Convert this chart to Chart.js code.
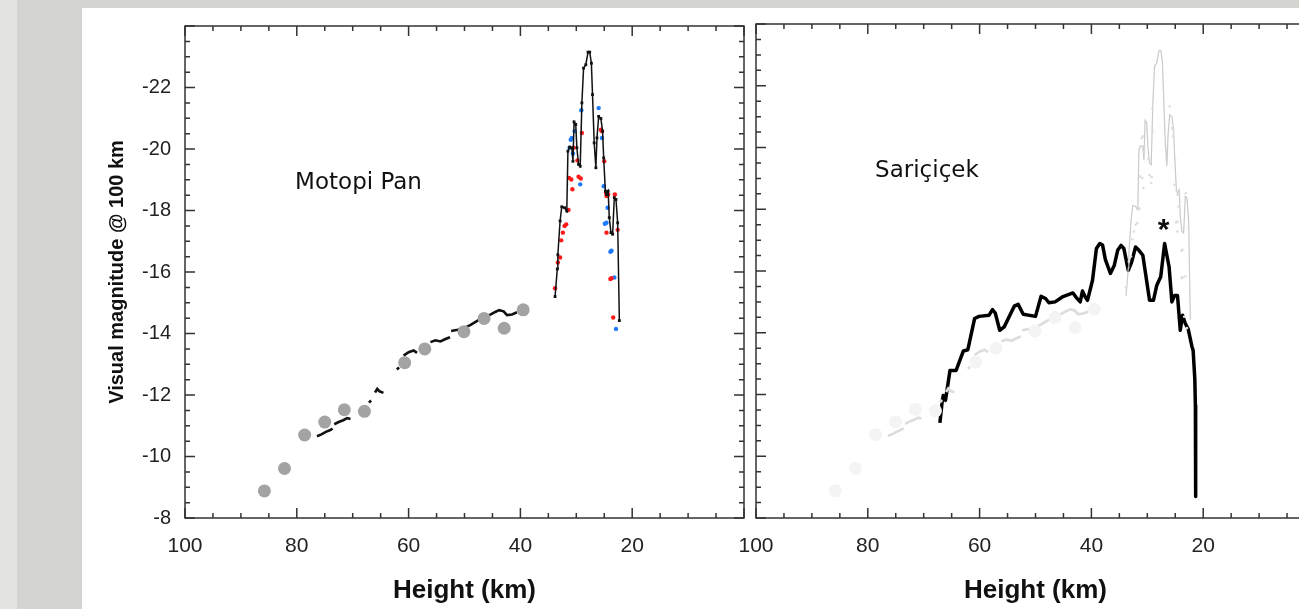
<!DOCTYPE html>
<html>
<head>
<meta charset="utf-8">
<script src="https://cdn.jsdelivr.net/npm/chart.js@4"></script>
<style>
  html, body { margin: 0; padding: 0; width: 1299px; height: 609px; overflow: hidden; background: #fff; }
  .band { position: absolute; background: #d4d4d0; }
  canvas { position: absolute; top: 0; }
</style>
</head>
<body>
<div class="band" style="left:0;top:0;width:1299px;height:8px"></div>
<div class="band" style="left:0;top:0;width:82px;height:609px"></div>
<div class="band" style="left:0;top:0;width:17px;height:609px;background:#e3e3df"></div>
<canvas id="left" width="760" height="609" style="left:0"></canvas>
<canvas id="right" width="640" height="609" style="left:700px"></canvas>
<script>
// Motopi Pan: grey circles
var circH = [85.8, 82.2, 78.6, 75.0, 71.5, 67.9, 60.7, 57.1, 50.1, 46.5, 42.9, 39.5];
var circM = [-8.88, -9.61, -10.70, -11.12, -11.52, -11.47, -13.05, -13.50, -14.06, -14.49, -14.17, -14.77];

// Motopi Pan: small black dots (null = gap)
var dotH = [76.4, 75.6, 74.8, 74.0, 73.6, null, 73.3, 72.5, 71.7, 71.0, 70.4, null, 67.1, 66.7, null,
  66.0, 65.6, 65.2, 64.5, null, 62.1, 61.7, null, 60.9, 60.0, 59.1, 58.5, null,
  56.1, 55.2, 54.3, 53.4, 52.6, null, 52.4, 51.2, 50.0, 48.9, 47.8, 46.6, 45.3, 44.5, 43.8, 43.0, 42.4, 41.5, 40.6];
var dotM = [-10.66, -10.72, -10.80, -10.86, -10.91, null, -11.05, -11.12, -11.18, -11.25, -11.22, null, -11.75, -11.82, null,
  -12.08, -12.2, -12.12, -12.07, null, -12.83, -12.9, null, -13.28, -13.39, -13.45, -13.37, null,
  -13.72, -13.78, -13.74, -13.82, -13.88, null, -14.08, -14.12, -14.18, -14.28, -14.4, -14.52, -14.62, -14.7, -14.76, -14.72, -14.6, -14.62, -14.69];

// Motopi Pan: main light curve
var mainH = [33.8, 33.4, 33.3, 32.9, 32.6, 32.1, 31.7, 31.5, 31.2, 30.8, 30.6, 30.4, 30.1, 29.9, 29.6, 29.3, 29.0, 28.7, 28.3, 27.9,
  27.6, 27.3, 27.1, 26.8, 26.5, 26.3, 26.0, 25.6, 25.3, 25.1, 24.8, 24.6, 24.3, 24.1, 23.8, 23.5, 23.2, 22.9, 22.6, 22.3];
var mainM = [-15.2, -16.1, -16.56, -17.66, -18.12, -18.09, -17.98, -19.93, -20.06, -20.04, -19.6, -20.88, -20.8, -20.04, -19.5, -19.44, -21.5, -22.63, -22.74, -23.15,
  -23.15, -22.79, -21.77, -20.2, -19.39, -20.36, -21.06, -20.99, -20.58, -19.71, -18.63, -18.52, -18.63, -17.77, -17.28, -17.23, -18.42, -18.36, -17.6, -14.42];

var redH = [33.8, 33.3, 32.9, 32.7, 32.4, 32.1, 31.8, 31.4, 31.3, 30.9, 30.7, 30.5, 29.8, 29.6, 29.2, 29.0, 25.6, 25.4, 25.0, 24.7, 24.6, 24.3, 24.6, 23.9, 23.7, 23.4, 23.1, 22.6];
var redM = [-15.47, -16.31, -16.47, -17.03, -17.28, -17.5, -17.55, -18.02, -19.06, -19.01, -18.69, -20.04, -19.63, -19.1, -19.04, -20.52, -20.63, -20.58, -19.6, -18.58, -18.47, -18.52, -17.28, -15.77, -15.8, -14.52, -18.52, -17.37];

var blueH = [31.2, 31.0, 30.8, 30.6, 30.3, 29.3, 29.1, 26.0, 25.4, 25.1, 24.4, 24.9, 24.6, 23.9, 23.7, 23.2, 22.9];
var blueM = [-20.04, -20.3, -20.36, -19.85, -20.58, -18.85, -21.26, -21.33, -20.36, -18.79, -18.09, -17.57, -17.6, -16.66, -16.69, -15.82, -14.15];

// Sariçiçek light curve
var sarH = [67.1, 66.7, 66.5, 66.1, 65.3, 64.2, 62.9, 62.1, 60.9, 60.1, 58.3, 57.7, 57.2, 56.4, 55.6, 53.8, 53.1, 52.2, 50.0, 49.0,
  48.2, 47.6, 46.5, 45.2, 43.3, 42.7, 42.0, 41.6, 41.1, 40.7, 39.8, 39.1, 38.5, 38.0, 37.5, 36.6, 35.9, 35.3, 34.7, 34.2,
  33.4, 32.8, 32.1, 31.5, 30.8, 29.6, 28.9, 28.3, 27.6, 26.9, 26.1, 25.6, 25.1, 24.6, 24.1, 23.7, 23.2, 22.7, 22.0, 21.8,
  21.5, 21.4, 21.35];
var sarM = [-11.08, -11.76, -11.97, -11.81, -12.78, -12.78, -13.41, -13.45, -14.46, -14.53, -14.57, -14.75, -14.64, -14.08, -14.19, -14.86, -14.92, -14.6, -14.53, -15.18,
  -15.11, -14.97, -15.0, -15.16, -15.29, -15.14, -15.0, -15.35, -15.16, -15.05, -15.7, -16.73, -16.89, -16.84, -16.37, -15.92, -16.19, -16.67, -16.83, -16.73,
  -16.02, -16.29, -16.78, -16.67, -16.51, -15.05, -15.05, -15.54, -15.81, -16.89, -16.13, -15.0, -15.21, -15.21, -14.08, -14.57, -14.3, -14.13, -13.54, -13.43,
  -12.5, -11.65, -8.7];

var xTicks = [100, 80, 60, 40, 20];
var yTicks = [-22, -20, -18, -16, -14, -12, -10, -8];

function pts(xs, ys) {
  var out = [];
  xs.forEach(function(x, i) {
    if (x === null) out.push({ x: xs[i - 1], y: null });
    else out.push({ x: x, y: ys[i] });
  });
  return out;
}

// box, inward ticks on all four sides, and text notes
var framePlugin = {
  id: 'frame',
  afterDraw: function(chart) {
    var ctx = chart.ctx, a = chart.chartArea, xs = chart.scales.x, ys = chart.scales.y;
    ctx.save();
    ctx.strokeStyle = '#333';
    ctx.lineWidth = 1.5;
    ctx.strokeRect(a.left, a.top, a.right - a.left, a.bottom - a.top);
    ctx.beginPath();
    for (var v = 0; v <= 100; v += 5) {
      var px = xs.getPixelForValue(v), len = v % 20 === 0 ? 10 : 5;
      ctx.moveTo(px, a.bottom); ctx.lineTo(px, a.bottom - len);
      ctx.moveTo(px, a.top); ctx.lineTo(px, a.top + len);
    }
    for (var m = -24; m <= -8; m += 0.5) {
      var py = ys.getPixelForValue(m), l2 = m % 2 === 0 ? 10 : 5;
      ctx.moveTo(a.left, py); ctx.lineTo(a.left + l2, py);
      ctx.moveTo(a.right, py); ctx.lineTo(a.right - l2, py);
    }
    ctx.stroke();
    var notes = chart.options.plugins.frame.notes || [];
    notes.forEach(function(n) {
      ctx.font = n.font;
      ctx.fillStyle = '#111';
      ctx.textAlign = n.align || 'left';
      ctx.textBaseline = 'alphabetic';
      ctx.fillText(n.text, xs.getPixelForValue(n.x), ys.getPixelForValue(n.y));
    });
    ctx.restore();
  }
};

function scales(showY) {
  return {
    x: {
      type: 'linear', min: 0, max: 100, reverse: true,
      afterFit: function(s) { s.height = 91; },
      afterBuildTicks: function(s) { s.ticks = xTicks.map(function(v) { return { value: v }; }); },
      grid: { display: false, drawTicks: false },
      border: { display: false },
      ticks: { padding: 16, maxRotation: 0, autoSkip: false, color: '#222', font: { family: 'Liberation Sans', size: 21 } },
      title: { display: true, text: 'Height (km)', color: '#111', padding: { bottom: 3 },
        font: { family: 'Liberation Sans', size: 26, weight: 'bold' } }
    },
    y: {
      type: 'linear', min: -24, max: -8, reverse: true,
      afterFit: function(s) { s.width = showY ? 185 : 56; },
      afterBuildTicks: function(s) { s.ticks = yTicks.map(function(v) { return { value: v }; }); },
      grid: { display: false, drawTicks: false },
      border: { display: false },
      ticks: { display: showY, padding: 14, color: '#222', font: { family: 'Liberation Sans', size: 20 } },
      title: { display: showY, text: 'Visual magnitude @ 100 km', color: '#111', padding: { top: 105 },
        font: { family: 'Liberation Sans', size: 20, weight: 'bold' } }
    }
  };
}

new Chart(document.getElementById('left').getContext('2d'), {
  type: 'scatter',
  data: {
    datasets: [
      { data: pts(circH, circM), pointRadius: 6.5, pointBackgroundColor: '#a3a3a3', pointBorderWidth: 0 },
      { data: pts(dotH, dotM), showLine: true, borderColor: '#111', borderWidth: 2.6, pointRadius: 0 },
      { data: pts(mainH, mainM), showLine: true, borderColor: '#111', borderWidth: 1.5, pointRadius: 2,
        pointStyle: 'rect', pointBackgroundColor: '#111', pointBorderWidth: 0 },
      { data: pts(redH, redM), pointRadius: 2.2, pointBackgroundColor: '#ff1a1a', pointBorderWidth: 0 },
      { data: pts(blueH, blueM), pointRadius: 2.2, pointBackgroundColor: '#1e7bff', pointBorderWidth: 0 }
    ]
  },
  options: {
    responsive: false, animation: false,
    layout: { padding: { top: 24, right: 16, left: 0, bottom: 0 } },
    scales: scales(true),
    plugins: {
      legend: { display: false }, tooltip: { enabled: false },
      frame: { notes: [{ text: 'Motopi Pan', x: 80.3, y: -18.7, font: '23px "DejaVu Sans"' }] }
    }
  },
  plugins: [framePlugin]
});

new Chart(document.getElementById('right').getContext('2d'), {
  type: 'scatter',
  data: {
    datasets: [
      { data: pts(circH, circM), pointRadius: 6.5, pointBackgroundColor: '#f4f4f4', pointBorderWidth: 0 },
      { data: pts(dotH, dotM), showLine: true, borderColor: '#dcdcdc', borderWidth: 2.6, pointRadius: 0 },
      { data: pts(redH, redM).concat(pts(blueH, blueM)), pointRadius: 1.3, pointBackgroundColor: '#dddddd', pointBorderWidth: 0 },
      { data: pts(mainH, mainM), showLine: true, borderColor: '#cacaca', borderWidth: 1.2, pointRadius: 0 },
      { data: pts(sarH, sarM), showLine: true, borderColor: '#000', borderWidth: 3.5, pointRadius: 0, borderJoinStyle: 'round' }
    ]
  },
  options: {
    responsive: false, animation: false,
    layout: { padding: { top: 24, right: 25, left: 0, bottom: 0 } },
    scales: scales(false),
    plugins: {
      legend: { display: false }, tooltip: { enabled: false },
      frame: { notes: [
        { text: 'Sariçiçek', x: 78.7, y: -19.05, font: '23px "DejaVu Sans"' },
        { text: '*', x: 27.1, y: -17.05, font: 'bold 30px "Liberation Sans"', align: 'center' }
      ] }
    }
  },
  plugins: [framePlugin]
});
</script>
</body>
</html>
